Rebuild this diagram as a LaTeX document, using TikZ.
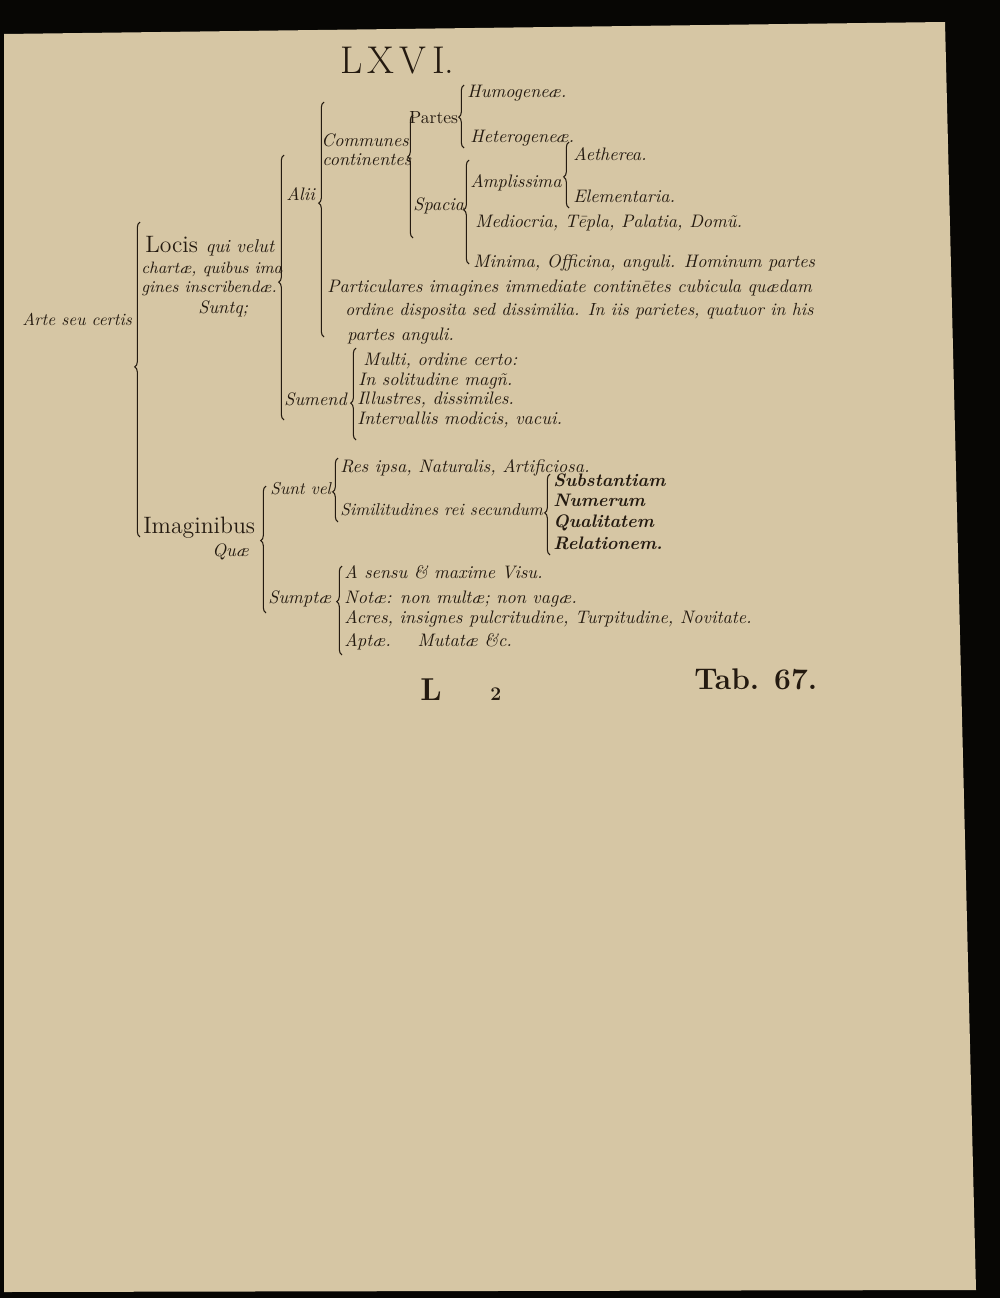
\documentclass[tikz,border=0pt]{standalone}
\usepackage{fontspec}
\usepackage{tikz}
\usetikzlibrary{decorations.pathreplacing}
\definecolor{ink}{HTML}{241A10}
\definecolor{paper}{HTML}{D6C6A4}
\definecolor{backdrop}{HTML}{070604}
\tikzstyle{entry} = [anchor=base west, inner sep=0pt, text=ink,
                     font=\fontsize{10.3}{12}\selectfont\itshape]
\tikzstyle{caput} = [anchor=base west, inner sep=0pt, text=ink,
                     font=\fontsize{13.5}{15}\selectfont]
\tikzset{brk/.style={draw=ink, line width=0.6pt, decorate,
                     decoration={brace, amplitude=3pt, aspect=#1}}}

\begin{document}
\begin{tikzpicture}[x=0.02cm, y=-0.02cm]

  %% Page
  \fill[backdrop] (0,0) rectangle (1000,1298);
  \fill[paper] (4,34) -- (945,22) -- (976,1290) -- (4,1292) -- cycle;
  \useasboundingbox (0,0) rectangle (1000,1298);

  %% Heading
  \node[caput, font=\fontsize{22}{24}\selectfont] (title) at (340,73)
        {L\hspace{3pt}X\hspace{3pt}V\hspace{3pt}I.};

  %% Loci: Alii
  \node[entry] (hum)   at (467,97)  {Humogeneæ.};
  \node[caput, font=\fontsize{10}{12}\selectfont] (partes) at (409,123) {Partes};
  \node[entry] (het)   at (470,142) {Heterogeneæ.};
  \node[entry] (comm)  at (321,146) {Communes};
  \node[entry] (cont)  at (322,165) {continentes};
  \node[entry] (aeth)  at (573,160) {Aetherea.};
  \node[entry] (ampl)  at (470,187) {Amplissima};
  \node[entry] (alii)  at (286,200) {Alii};
  \node[entry] (elem)  at (573,202) {Elementaria.};
  \node[entry] (spac)  at (413,210) {Spacia};
  \node[entry] (medi)  at (475,227) {Mediocria, Tēpla, Palatia, Domũ.};
  \node[entry] (minim) at (473,267) {Minima, Officina, anguli. Hominum partes};
  \node[entry] (part1) at (327,292)
        {Particulares imagines immediate continētes cubicula quædam};
  \node[entry, font=\fontsize{10}{12}\selectfont\itshape] (part2) at (345,315)
        {ordine disposita sed dissimilia. In iis parietes, quatuor in his};
  \node[entry] (part3) at (347,340) {partes anguli.};

  %% Loci
  \node[caput] (locis1) at (145,252)
        {Locis \textit{\fontsize{10.5}{12}\selectfont qui velut}};
  \node[entry, font=\fontsize{9.4}{12}\selectfont\itshape] (locis2) at (141,273)
        {chartæ, quibus ima};
  \node[entry, font=\fontsize{9.4}{12}\selectfont\itshape] (locis3) at (141,292)
        {gines inscribendæ.};
  \node[entry] (suntq)  at (198,313) {Suntq;};
  \node[entry, font=\fontsize{9.8}{12}\selectfont\itshape] (arte) at (22,325)
        {Arte seu certis};

  %% Loci: Sumendi
  \node[entry] (multi)  at (363,365) {Multi, ordine certo:};
  \node[entry] (solit)  at (358,385) {In solitudine magñ.};
  \node[entry] (sumend) at (284,405) {Sumend};
  \node[entry] (illus)  at (357,404) {Illustres, dissimiles.};
  \node[entry] (interv) at (357,424) {Intervallis modicis, vacui.};

  %% Imagines
  \node[entry] (res)    at (340,472) {Res ipsa, Naturalis, Artificiosa.};
  \node[entry, font=\fontsize{9.8}{12}\selectfont\itshape] (suntvel) at (270,494)
        {Sunt vel};
  \node[entry] (subst)  at (553,486) {\textbf{Substantiam}};
  \node[entry, font=\fontsize{9.8}{12}\selectfont\itshape] (simil) at (340,515)
        {Similitudines rei secundum};
  \node[entry] (numer)  at (553,506) {\textbf{Numerum}};
  \node[caput] (imag)   at (143,533) {Imaginibus};
  \node[entry] (qual)   at (553,527) {\textbf{Qualitatem}};
  \node[entry] (quae)   at (212,556) {Quæ};
  \node[entry] (relat)  at (553,549) {\textbf{Relationem.}};
  \node[entry] (sensu)  at (344,578) {A sensu \& maxime Visu.};
  \node[entry] (sumptae) at (268,603) {Sumptæ};
  \node[entry] (notae)  at (344,603) {Notæ: non multæ; non vagæ.};
  \node[entry] (acres)  at (344,623)
        {Acres, insignes pulcritudine, Turpitudine, Novitate.};
  \node[entry] (aptae)  at (344,646) {Aptæ. \quad Mutatæ \&c.};

  %% Foot
  \node[caput, font=\fontsize{18}{20}\selectfont\bfseries] (sigL) at (420,700) {L};
  \node[caput, font=\fontsize{11}{12}\selectfont\bfseries] (sig2) at (490,700) {2};
  \node[caput, font=\fontsize{17}{19}\selectfont\bfseries] (tab)  at (694,689) {Tab. 67.};

  %% Brace ends
  \coordinate (pT) at (464,85);   \coordinate (pB) at (464,148);
  \coordinate (cT) at (413,115);  \coordinate (cB) at (413,238);
  \coordinate (sT) at (469,160);  \coordinate (sB) at (469,264);
  \coordinate (aT) at (569,142);  \coordinate (aB) at (569,208);
  \coordinate (lT) at (324,102);  \coordinate (lB) at (324,337);
  \coordinate (oT) at (284,155);  \coordinate (oB) at (284,420);
  \coordinate (rT) at (140,222);  \coordinate (rB) at (140,537);
  \coordinate (mT) at (356,348);  \coordinate (mB) at (356,440);
  \coordinate (iT) at (266,486);  \coordinate (iB) at (266,613);
  \coordinate (vT) at (338,458);  \coordinate (vB) at (338,522);
  \coordinate (qT) at (550,474);  \coordinate (qB) at (550,555);
  \coordinate (uT) at (342,566);  \coordinate (uB) at (342,655);

  %% Braces
  \draw[brk=0.49] (pB) -- (pT);
  \draw[brk=0.66] (cB) -- (cT);
  \draw[brk=0.52] (sB) -- (sT);
  \draw[brk=0.47] (aB) -- (aT);
  \draw[brk=0.57] (lB) -- (lT);
  \draw[brk=0.52] (oB) -- (oT);
  \draw[brk=0.54] (rB) -- (rT);
  \draw[brk=0.40] (mB) -- (mT);
  \draw[brk=0.57] (iB) -- (iT);
  \draw[brk=0.47] (vB) -- (vT);
  \draw[brk=0.52] (qB) -- (qT);
  \draw[brk=0.60] (uB) -- (uT);

\end{tikzpicture}
\end{document}
